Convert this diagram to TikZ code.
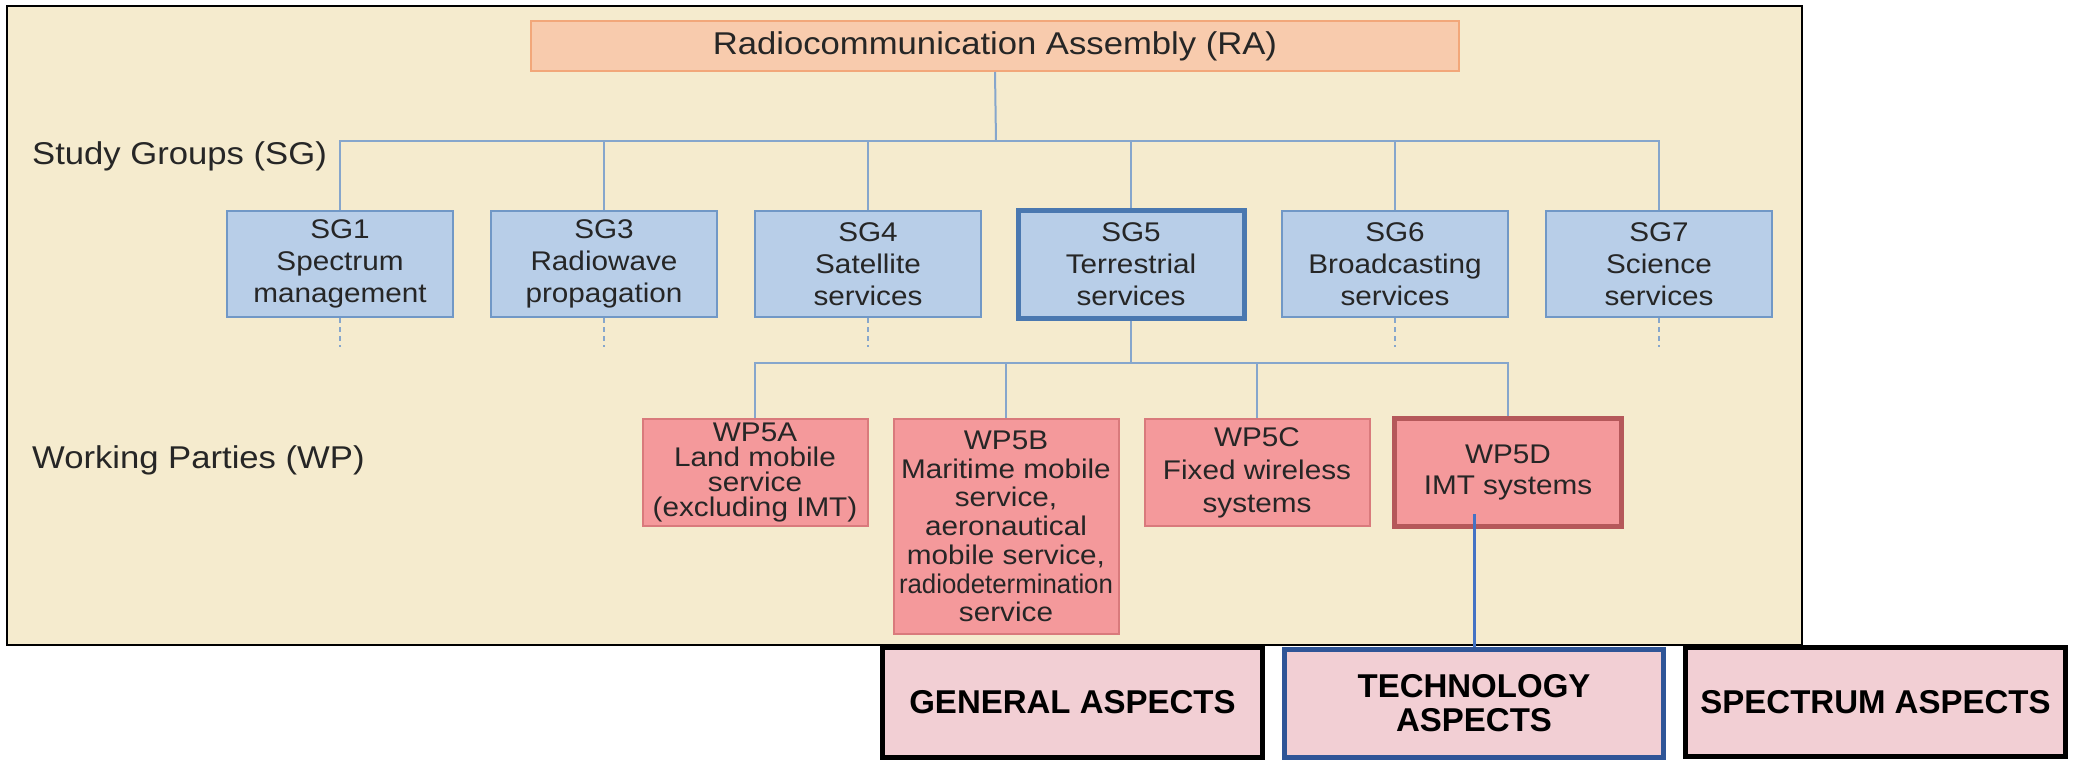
\documentclass[tikz,border=0pt]{standalone}
\usepackage{fontspec}
\usepackage{graphicx}
\setmainfont{Liberation Sans}
\newfontfamily\upfont{Liberation Sans}[FakeStretch=1.1]
\definecolor{panelfill}{HTML}{F5EBCE}
\definecolor{rafill}{HTML}{F8CBAD}
\definecolor{radraw}{HTML}{F2A77A}
\definecolor{sgfill}{HTML}{B8CEE8}
\definecolor{sgdraw}{HTML}{7198C6}
\definecolor{sgthick}{HTML}{4A78B0}
\definecolor{wpfill}{HTML}{F4999B}
\definecolor{wpdraw}{HTML}{D97A7C}
\definecolor{wpthick}{HTML}{B5585A}
\definecolor{connc}{HTML}{86A6CC}
\definecolor{aspfill}{HTML}{F2CFD4}
\definecolor{techdraw}{HTML}{2F5597}
\definecolor{techline}{HTML}{4472C4}
\definecolor{txt}{HTML}{262626}
\begin{document}
\begin{tikzpicture}[x=1pt,y=-1pt,
  sgbox/.style={draw=sgdraw, line width=2pt, fill=sgfill, minimum width=226pt, minimum height=106pt,
    inner sep=0pt, align=center, text=txt, font=\upfont\fontsize{27}{32}\selectfont},
  sgmain/.style={sgbox, draw=sgthick, line width=5pt, minimum height=108pt},
  wpbox/.style={draw=wpdraw, line width=2pt, fill=wpfill, minimum width=225pt, minimum height=107pt,
    inner sep=0pt, align=center, text=txt},
  wpmain/.style={wpbox, draw=wpthick, line width=5pt, minimum width=227pt, minimum height=108pt},
  aspect/.style={draw=black, line width=5pt, fill=aspfill, minimum width=380pt, minimum height=110pt,
    inner sep=0pt, align=center, font=\bfseries\fontsize{33}{34}\selectfont},
  conn/.style={draw=connc, line width=2pt},
  stub/.style={draw=connc, line width=2pt, dash pattern=on 5pt off 4pt},
  lbl/.style={anchor=base west, inner sep=0pt, text=txt, font=\upfont\fontsize{31.5}{36}\selectfont}
]
\useasboundingbox (0,0) rectangle (2073,760);
\fill[white] (0,0) rectangle (2073,760);
\draw[fill=panelfill, line width=2pt] (7,6) rectangle (1802,645);

% Assembly
\node[draw=radraw, line width=2pt, fill=rafill, minimum width=928pt, minimum height=50pt, inner sep=0pt,
  text=txt, font=\upfont\fontsize{31.5}{36}\selectfont] (ra) at (995,46) {Radiocommunication Assembly (RA)};

% Labels
\node[lbl] (sglbl) at (32,164) {Study Groups (SG)};
\node[lbl] (wplbl) at (32,468) {Working Parties (WP)};

% Study groups
\node[sgbox] (sg1) at (340,264) {SG1\\Spectrum\\management};
\node[sgbox] (sg3) at (604,264) {SG3\\Radiowave\\propagation};
\node[sgbox] (sg4) at (868,264) {SG4\\Satellite\\services};
\node[sgmain] (sg5) at (1131,264) {SG5\\Terrestrial\\services};
\node[sgbox] (sg6) at (1395,264) {SG6\\Broadcasting\\services};
\node[sgbox] (sg7) at (1659,264) {SG7\\Science\\services};

\coordinate (sgbus) at (996,141);
\draw[conn] (ra.south) -- (sgbus);
\foreach \n in {sg1,sg3,sg4,sg5,sg6,sg7} {\draw[conn] (\n.north) |- (sgbus);}
\foreach \n in {sg1,sg3,sg4,sg6,sg7} {\draw[stub] (\n.south) -- ++(0,29);}

% Working parties
\node[wpbox, font=\upfont\fontsize{27}{25}\selectfont] (wpa) at (755,472.5)
  {WP5A\\Land mobile\\service\\(excluding IMT)};
\node[wpbox, minimum height=215pt, font=\upfont\fontsize{27}{28.7}\selectfont] (wpb) at (1006,526.5)
  {WP5B\\Maritime mobile\\service,\\aeronautical\\mobile service,\\\scalebox{0.87}[1]{radiodetermination}\\service};
\node[wpbox, font=\upfont\fontsize{27}{33}\selectfont] (wpc) at (1257,472.5)
  {WP5C\\Fixed wireless\\systems};
\node[wpmain, font=\upfont\fontsize{27}{31}\selectfont] (wpd) at (1508,472.5)
  {WP5D\\IMT systems};

\coordinate (wpbus) at (1131,363);
\draw[conn] (sg5.south) -- (wpbus);
\foreach \n in {wpa,wpb,wpc,wpd} {\draw[conn] (\n.north) |- (wpbus);}

% Aspects
\node[aspect] (gen) at (1072.5,702.5) {GENERAL ASPECTS};
\node[aspect, draw=techdraw, minimum width=379pt, minimum height=108pt] (tech) at (1474,703.5) {TECHNOLOGY\\ASPECTS};
\node[aspect, minimum height=109pt] (spec) at (1875.5,702) {SPECTRUM ASPECTS};

\coordinate (wpdin) at (1474,514);
\draw[draw=techline, line width=3pt] (wpdin) -- (tech.north);
\end{tikzpicture}
\end{document}
